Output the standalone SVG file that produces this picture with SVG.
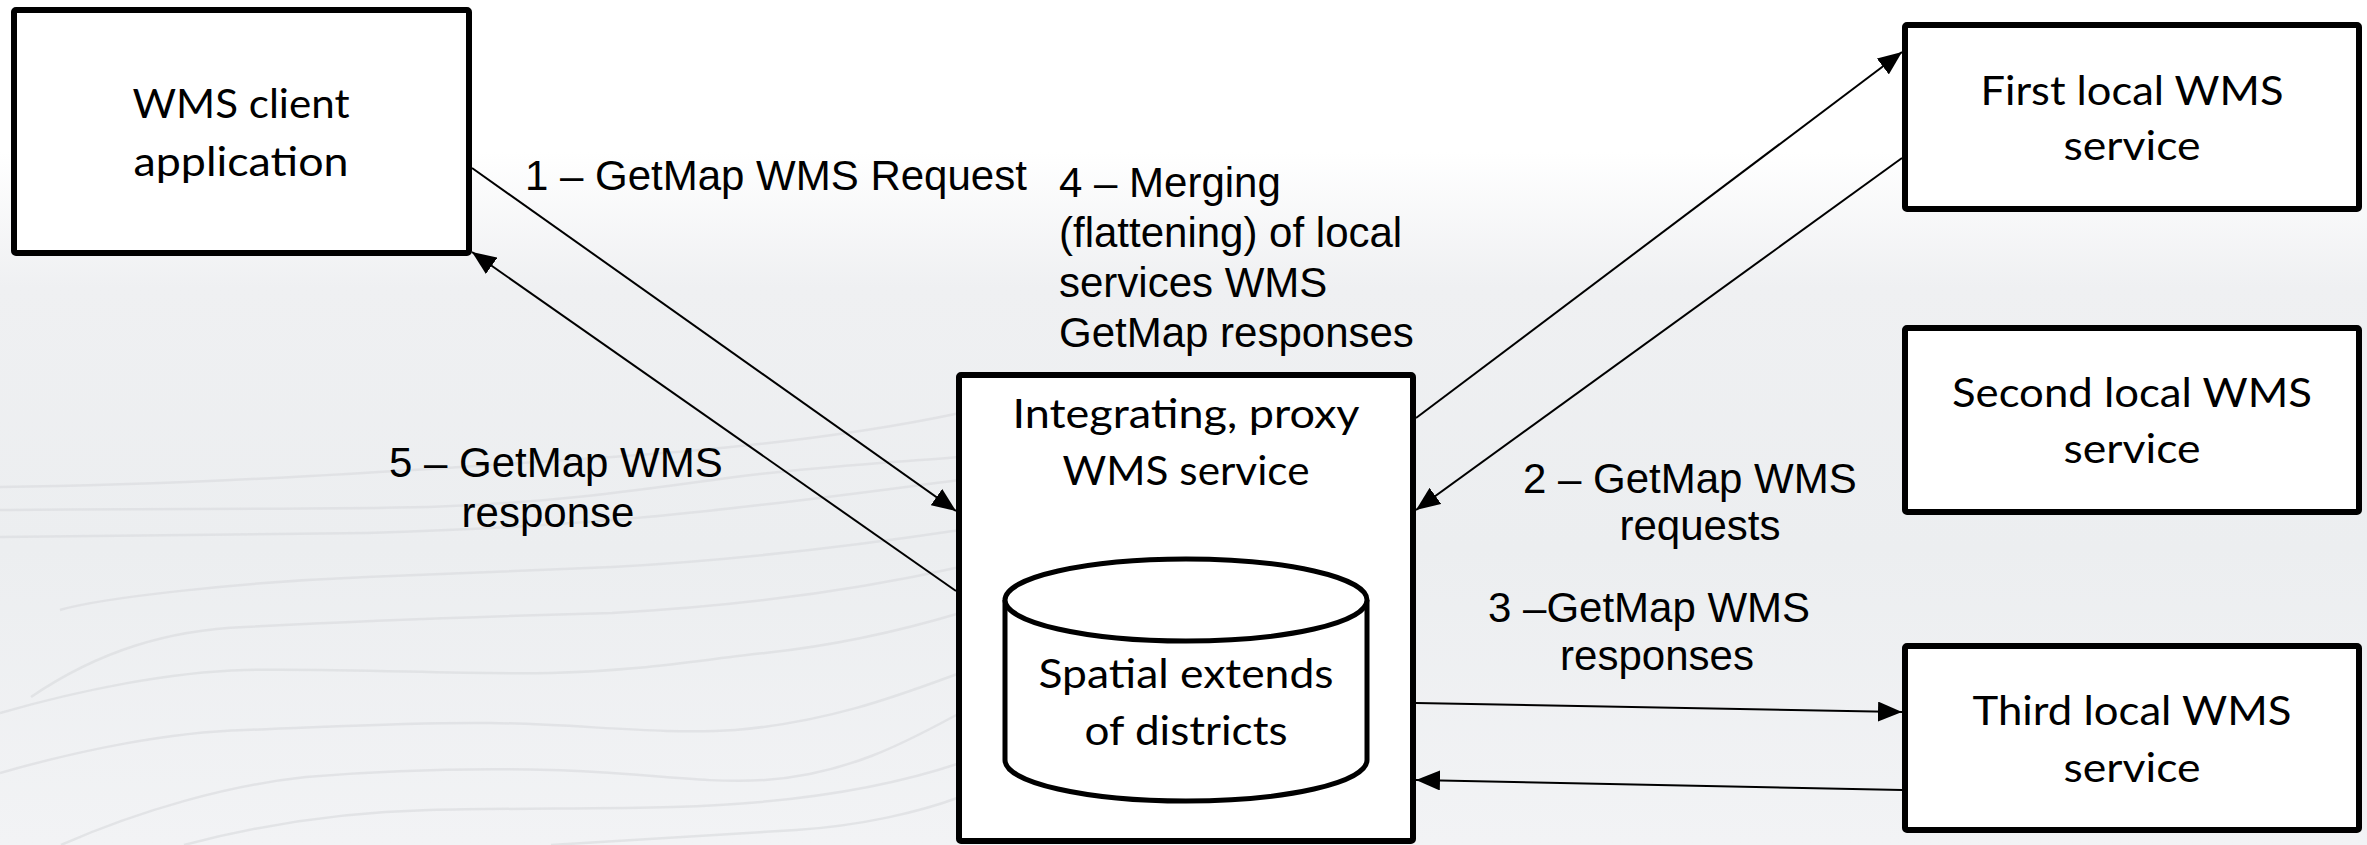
<svg xmlns="http://www.w3.org/2000/svg" width="2367" height="845" viewBox="0 0 2367 845">
<style>
.box{fill:#fff;stroke:#000;stroke-width:6;stroke-linejoin:round}
.cyl{fill:#fff;stroke:#000;stroke-width:5}
.nt{font-family:Lato,"Open Sans","Noto Sans",sans-serif;font-size:41px;fill:#000;text-anchor:middle}
.lb{font-family:"Liberation Sans",Arial,sans-serif;font-size:42px;fill:#000}
.mid{text-anchor:middle}
.con{stroke:#000;stroke-width:2;fill:none;marker-end:url(#ah)}
.contour{fill:none;stroke:#dcdde0;stroke-width:2.5;opacity:0.7}
</style>
<defs>
<linearGradient id="bg" x1="0" y1="0" x2="0" y2="1">
<stop offset="0" stop-color="#ffffff"/>
<stop offset="0.18" stop-color="#ffffff"/>
<stop offset="0.34" stop-color="#eff0f2"/>
<stop offset="0.65" stop-color="#eceef0"/>
<stop offset="1" stop-color="#f2f3f5"/>
</linearGradient>
<marker id="ah" viewBox="0 0 24 20" refX="24" refY="10" markerWidth="24" markerHeight="20" markerUnits="userSpaceOnUse" orient="auto">
<path d="M0,0 L24,10 L0,20 Z" fill="#000"/>
</marker>
</defs>
<g id="background">
<rect x="0" y="0" width="2367" height="845" fill="url(#bg)"/>
<path class="contour" d="M0,487 C200,485 420,470 612,457 C760,447 880,430 960,413"/>
<path class="contour" d="M0,510 C150,508 300,510 429,507 C560,503 660,487 735,477 C820,466 900,462 960,457"/>
<path class="contour" d="M0,537 C120,535 260,535 367,533 C470,530 540,526 612,520 C740,510 880,490 960,480"/>
<path class="contour" d="M60,610 C100,598 240,582 367,577 C460,573 540,570 612,567 C740,560 860,545 960,530"/>
<path class="contour" d="M31,697 C100,650 170,630 245,627 C380,620 500,616 612,613 C760,605 880,585 960,567"/>
<path class="contour" d="M0,713 C80,690 170,672 245,670 C350,668 460,675 551,673 C640,671 700,660 765,653 C840,645 910,628 960,613"/>
<path class="contour" d="M0,773 C80,750 170,732 245,730 C330,727 410,722 490,723 C580,724 660,735 735,730 C830,722 900,695 960,673"/>
<path class="contour" d="M61,845 C140,810 230,785 306,777 C390,770 470,768 551,770 C640,772 700,784 765,780 C850,774 910,740 960,713"/>
<path class="contour" d="M184,845 C260,825 340,812 429,810 C520,808 600,809 673,807 C780,804 880,790 960,763"/>
<path class="contour" d="M551,845 C640,840 720,834 796,830 C860,826 920,812 960,797"/>
</g>
<g id="connectors">
<path class="con" d="M472,168 L956,511"/>
<path class="con" d="M956,591 L472,252"/>
<path class="con" d="M1416,418 L1902,52"/>
<path class="con" d="M1902,158 L1416,510"/>
<path class="con" d="M1416,703 L1902,712"/>
<path class="con" d="M1902,790 L1416,780"/>
</g>
<g id="node-client">
<rect class="box" x="14" y="10" width="455" height="243" rx="2"/>
<text class="nt" x="241" y="118" textLength="217" lengthAdjust="spacingAndGlyphs">WMS client</text>
<text class="nt" x="241" y="176" textLength="215" lengthAdjust="spacingAndGlyphs">application</text>
</g>
<g id="node-proxy">
<rect class="box" x="959" y="375" width="454" height="466" rx="2"/>
<text class="nt" x="1186" y="428" textLength="347" lengthAdjust="spacingAndGlyphs">Integrating, proxy</text>
<text class="nt" x="1186" y="485" textLength="247" lengthAdjust="spacingAndGlyphs">WMS service</text>
</g>
<g id="node-db">
<path class="cyl" d="M1005,600 L1005,760 A181,41 0 0 0 1367,760 L1367,600 A181,41 0 0 0 1005,600 Z"/>
<path class="cyl" d="M1005,600 A181,41 0 0 0 1367,600"/>
<text class="nt" x="1186" y="688" textLength="295" lengthAdjust="spacingAndGlyphs">Spatial extends</text>
<text class="nt" x="1186" y="745" textLength="203" lengthAdjust="spacingAndGlyphs">of districts</text>
</g>
<g id="node-first">
<rect class="box" x="1905" y="25" width="454" height="184" rx="2"/>
<text class="nt" x="2132" y="105" textLength="303" lengthAdjust="spacingAndGlyphs">First local WMS</text>
<text class="nt" x="2132" y="160" textLength="137" lengthAdjust="spacingAndGlyphs">service</text>
</g>
<g id="node-second">
<rect class="box" x="1905" y="328" width="454" height="184" rx="2"/>
<text class="nt" x="2132" y="407" textLength="360" lengthAdjust="spacingAndGlyphs">Second local WMS</text>
<text class="nt" x="2132" y="463" textLength="137" lengthAdjust="spacingAndGlyphs">service</text>
</g>
<g id="node-third">
<rect class="box" x="1905" y="646" width="454" height="184" rx="2"/>
<text class="nt" x="2132" y="725" textLength="319" lengthAdjust="spacingAndGlyphs">Third local WMS</text>
<text class="nt" x="2132" y="782" textLength="137" lengthAdjust="spacingAndGlyphs">service</text>
</g>
<g id="labels">
<text class="lb" x="525" y="190">1 – GetMap WMS Request</text>
<text class="lb" x="1059" y="197">4 – Merging</text>
<text class="lb" x="1059" y="247">(flattening) of local</text>
<text class="lb" x="1059" y="297">services WMS</text>
<text class="lb" x="1059" y="347">GetMap responses</text>
<text class="lb" x="1523" y="493">2 – GetMap WMS</text>
<text class="lb mid" x="1700" y="540">requests</text>
<text class="lb" x="1488" y="622">3 –GetMap WMS</text>
<text class="lb mid" x="1657" y="670">responses</text>
<text class="lb" x="389" y="477">5 – GetMap WMS</text>
<text class="lb mid" x="548" y="527">response</text>
</g>
</svg>
